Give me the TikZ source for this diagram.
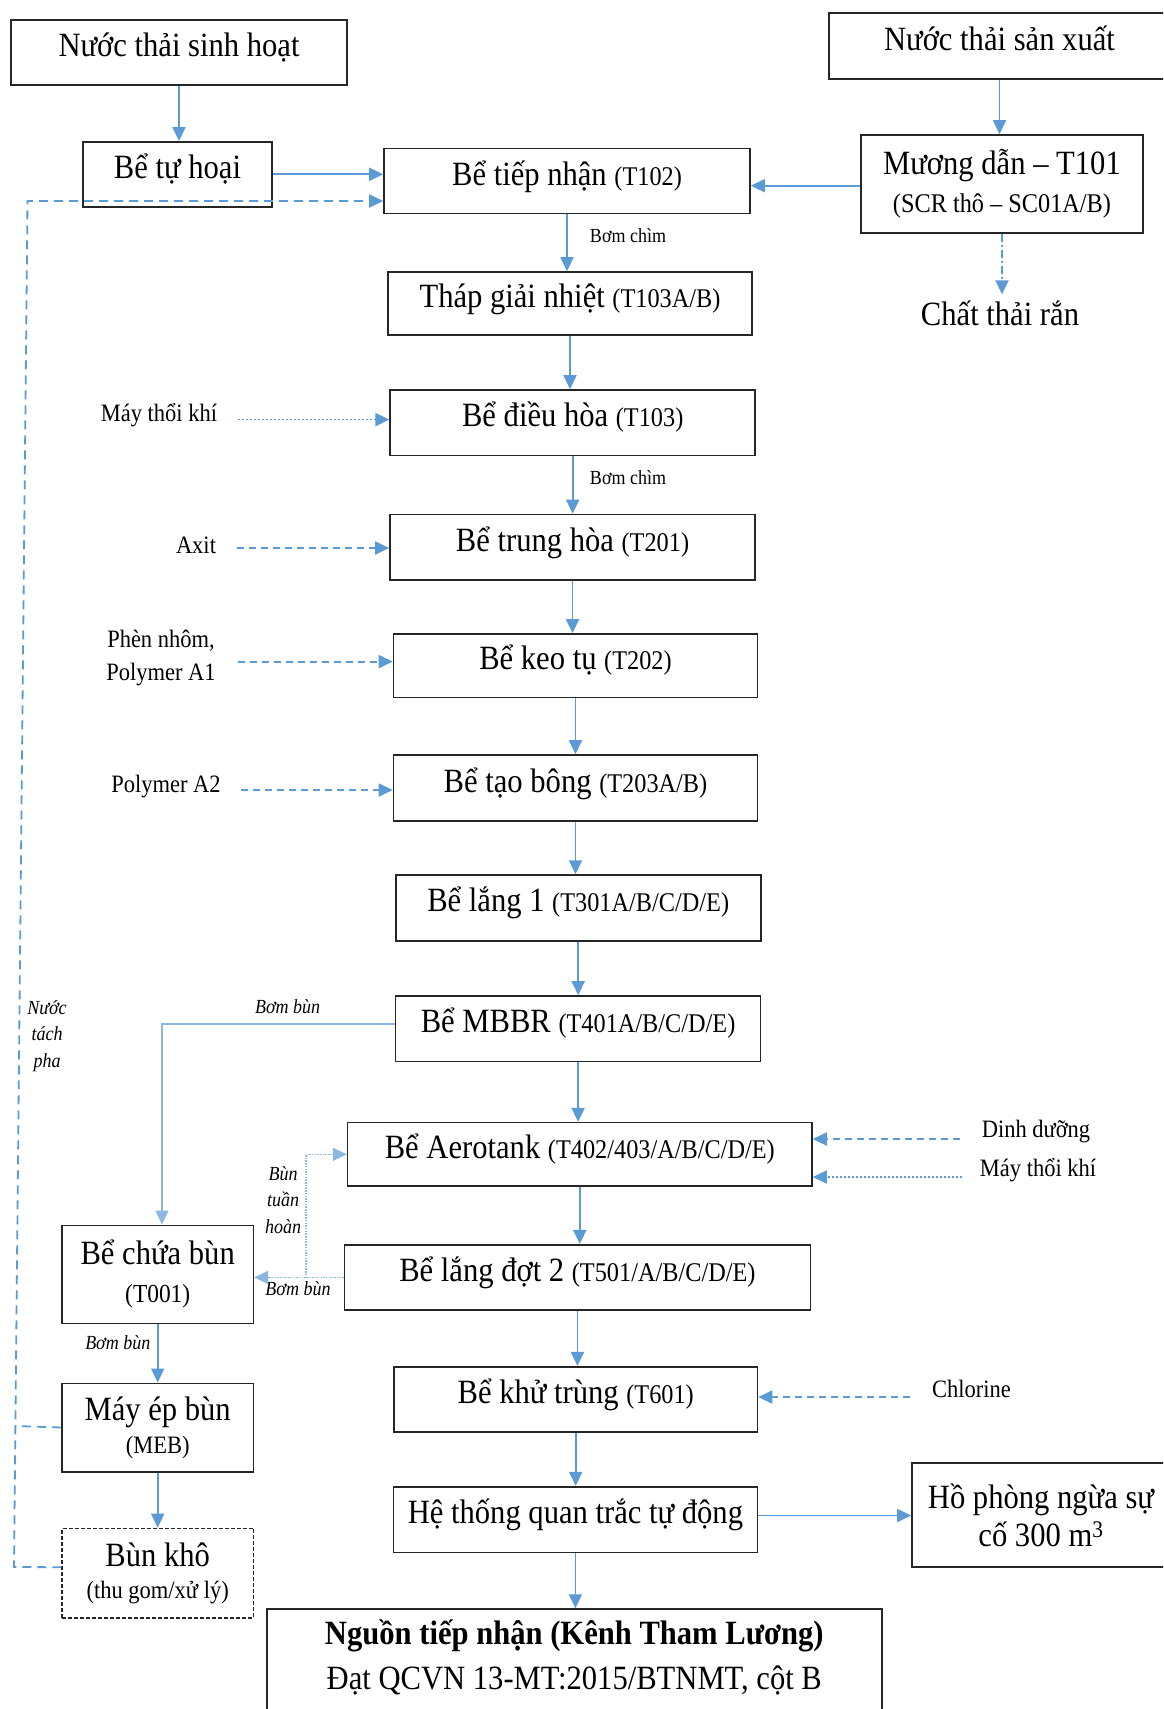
\documentclass[tikz,border=0pt]{standalone}
\usepackage{fontspec}
\setmainfont{Liberation Serif}[FakeStretch=0.9]
\usetikzlibrary{arrows.meta}
\definecolor{ablue}{HTML}{5B9BD5}
\definecolor{lblue}{HTML}{8DB6E2}
\newcommand\dgM{\fontsize{34}{38}\selectfont}
\newcommand\dgC{\fontsize{27}{32}\selectfont}
\newcommand\dgT{\fontsize{26}{32}\selectfont}
\newcommand\dgL{\fontsize{25}{33}\selectfont}
\newcommand\dgS{\fontsize{20}{24}\selectfont}
\newcommand\dgI{\fontsize{20}{26.5}\selectfont\itshape}
\begin{document}
\begin{tikzpicture}[x=1pt,y=-1pt,
  box/.style={draw=black!85, line width=1.6pt, rectangle, inner sep=0pt, align=center, font=\dgM},
  one/.style={text height=26pt, text depth=18pt},
  lbl/.style={inner sep=0pt, align=center},
  tip/.style={-{Triangle[length=14pt,width=13pt]}},
  arr/.style={draw=ablue, line width=1.8pt, tip},
  dsh/.style={draw=ablue, line width=1.8pt, dash pattern=on 7pt off 5pt, tip},
  fine/.style={draw=ablue, line width=1.6pt, dash pattern=on 2.5pt off 1.5pt, tip},
  ret/.style={draw=ablue, line width=1.8pt, dash pattern=on 9pt off 6pt},
  ddot/.style={draw=ablue, line width=1.8pt, dash pattern=on 8pt off 3pt on 2pt off 3pt, tip},
  sl/.style={draw=lblue, line width=1.4pt, tip},
  dotl/.style={draw=lblue, line width=1.4pt, dash pattern=on 1.5pt off 1.2pt}
]
\useasboundingbox (0,0) rectangle (1163,1709);
\fill[white] (0,0) rectangle (1163,1709);
\clip (0,0) rectangle (1163,1709);

% ---- boxes ----
\node[box,one,minimum width=336pt,minimum height=65pt] (A) at (179,52.5) {Nước thải sinh hoạt};
\node[box,one,minimum width=341pt,minimum height=66pt] (B) at (999.5,46) {Nước thải sản xuất};
\node[box,one,minimum width=189pt,minimum height=65pt] (C) at (177.5,174.3) {Bể tự hoại};
\node[box,one,minimum width=366pt,minimum height=65pt] (D) at (567,181) {Bể tiếp nhận {\dgC (T102)}};
\node[box,minimum width=282pt,minimum height=98pt] (E) at (1002,184) {Mương dẫn – T101\\{\dgC (SCR thô – SC01A/B)}};
\node[lbl,font=\dgM] (F) at (1000,313) {Chất thải rắn};
\node[box,one,minimum width=364pt,minimum height=63pt] (G) at (570,303.5) {Tháp giải nhiệt {\dgC (T103A/B)}};
\node[box,one,minimum width=365pt,minimum height=65.6pt] (H) at (572.7,422.8) {Bể điều hòa {\dgC (T103)}};
\node[box,one,minimum width=365pt,minimum height=65.5pt] (I) at (572.5,547.2) {Bể trung hòa {\dgC (T201)}};
\node[box,one,minimum width=364pt,minimum height=63.6pt] (J) at (575.5,665.8) {Bể keo tụ {\dgC (T202)}};
\node[box,one,minimum width=364pt,minimum height=66pt] (K) at (575.5,788) {Bể tạo bông {\dgC (T203A/B)}};
\node[box,one,minimum width=365pt,minimum height=65.7pt] (L) at (578.2,907.9) {Bể lắng 1 {\dgC (T301A/B/C/D/E)}};
\node[box,one,minimum width=365pt,minimum height=65.7pt] (M) at (578.1,1028.8) {Bể MBBR {\dgC (T401A/B/C/D/E)}};
\node[box,one,minimum width=464.4pt,minimum height=63.3pt] (N) at (579.8,1154.3) {Bể Aerotank {\dgC (T402/403/A/B/C/D/E)}};
\node[box,one,minimum width=466pt,minimum height=65.3pt] (O) at (577.4,1277.4) {Bể lắng đợt 2 {\dgC (T501/A/B/C/D/E)}};
\node[box,one,minimum width=363.5pt,minimum height=65.5pt] (P) at (575.7,1399.5) {Bể khử trùng {\dgC (T601)}};
\node[box,one,minimum width=364pt,minimum height=65.6pt] (Q) at (575.4,1519.5) {Hệ thống quan trắc tự động};
\node[box,minimum width=615pt,minimum height=112pt,anchor=north] (R) at (574.3,1608.3) {};
\node[lbl,font=\dgM] (Rt) at (574.3,1657) {{\bfseries Nguồn tiếp nhận (Kênh Tham Lương)}\\[7pt]Đạt QCVN 13-MT:2015/BTNMT, cột B};
\node[box,minimum width=258pt,minimum height=104pt] (S) at (1041,1515) {Hồ phòng ngừa sự\\cố 300 m\textsuperscript{3}};
\node[box,minimum width=191.4pt,minimum height=98pt] (T) at (157.7,1274.3) {Bể chứa bùn\\{\dgT (T001)}};
\node[box,minimum width=191.4pt,minimum height=88.4pt] (U) at (157.7,1427.5) {Máy ép bùn\\[-5pt]{\dgL (MEB)}};
\node[box,draw=black!85,line width=1.3pt,dash pattern=on 4pt off 2pt,minimum width=191.4pt,minimum height=89.7pt] (V) at (157.7,1573.2) {Bùn khô\\[-6pt]{\dgL (thu gom/xử lý)}};

% ---- side labels ----
\node[lbl,font=\dgL] (mtk1) at (159,415) {Máy thổi khí};
\node[lbl,font=\dgL] (axit) at (196,545) {Axit};
\node[lbl,font=\dgL] (phen) at (161,658) {Phèn nhôm,\\Polymer A1};
\node[lbl,font=\dgL] (pa2) at (166,787) {Polymer A2};
\node[lbl,font=\dgL] (dd) at (1036,1132) {Dinh dưỡng};
\node[lbl,font=\dgL] (mtk2) at (1038,1170) {Máy thổi khí};
\node[lbl,font=\dgL] (chl) at (971.5,1389) {Chlorine};
\node[lbl,font=\dgS] (bc1) at (628,235.5) {Bơm chìm};
\node[lbl,font=\dgS] (bc2) at (628,477.4) {Bơm chìm};
\node[lbl,font=\dgI] (bb1) at (287.6,1007) {Bơm bùn};
\node[lbl,font=\dgI] (bb2) at (298,1289) {Bơm bùn};
\node[lbl,font=\dgI] (bb3) at (117.8,1343) {Bơm bùn};
\node[lbl,font=\dgI] (ntp) at (47,1036) {Nước\\tách\\pha};
\node[lbl,font=\dgI] (btl) at (283,1200) {Bùn\\tuần\\hoàn};

% ---- coordinates for free ends ----
\coordinate (s1) at (237.6,419.6);
\coordinate (s2) at (236.5,548);
\coordinate (s3) at (237.6,661.6);
\coordinate (s4) at (241,790);
\coordinate (s5) at (960,1139);
\coordinate (s6) at (962,1177);
\coordinate (s7) at (910,1397);
\coordinate (rt) at (27.5,201);
\coordinate (rb) at (14,1567);
\coordinate (rm) at (15.4,1426);
\coordinate (mt) at (162,1024);
\coordinate (rc) at (306,1278);

% ---- main flow ----
\draw[arr] (A.south) -- (A.south |- C.north);
\draw[arr] (C.east) -- (C.east -| D.west);
\draw[arr] (B.south) -- (B.south |- E.north);
\draw[arr] ([yshift=-1.7pt]E.west) -- ([yshift=-1.7pt]E.west -| D.east);
\draw[ddot] (E.south) -- ([yshift=6pt]E.south |- F.north);
\draw[arr] (D.south) -- (D.south |- G.north);
\draw[arr] (G.south) -- (G.south |- H.north);
\draw[arr] (H.south) -- (H.south |- I.north);
\draw[arr] (I.south) -- (I.south |- J.north);
\draw[arr] (J.south) -- (J.south |- K.north);
\draw[arr] (K.south) -- (K.south |- L.north);
\draw[arr] (L.south) -- (L.south |- M.north);
\draw[arr] (M.south) -- (M.south |- N.north);
\draw[arr] (N.south) -- (N.south |- O.north);
\draw[arr] (O.south) -- (O.south |- P.north);
\draw[arr] (P.south) -- (P.south |- Q.north);
\draw[arr] (Q.south) -- (Q.south |- R.north);
\draw[arr] ([yshift=4pt]Q.east) -- ([yshift=4pt]Q.east -| S.west);

% ---- feeds ----
\draw[fine] (s1) -- (s1 -| H.west);
\draw[dsh] (s2) -- (s2 -| I.west);
\draw[dsh] (s3) -- (s3 -| J.west);
\draw[dsh] (s4) -- (s4 -| K.west);
\draw[dsh] (s5) -- (s5 -| N.east);
\draw[fine] (s6) -- (s6 -| N.east);
\draw[dsh] (s7) -- (s7 -| P.east);

% ---- return water ----
\draw[ret,tip] ([yshift=6pt]V.west) -- (rb) -- (rt) -- (rt -| D.west);
\draw[ret] (U.west) -- (rm);

% ---- sludge ----
\draw[sl] ([yshift=4.8pt]M.west) -- ([yshift=4.8pt]M.west -| mt) -- (mt |- T.north);
\draw[dotl,tip] (O.west) -- (O.west -| T.east);
\draw[dotl,tip] (rc) |- (N.west);
\draw[arr] (T.south) -- (T.south |- U.north);
\draw[arr] (U.south) -- (U.south |- V.north);
\end{tikzpicture}
\end{document}
